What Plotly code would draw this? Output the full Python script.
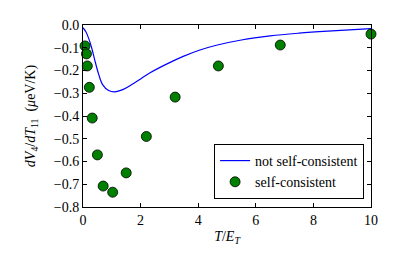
import plotly.graph_objects as go

# not self-consistent curve
curve_x = [0, 0.1, 0.2, 0.3, 0.4, 0.54, 0.68, 0.89, 1.1, 1.4, 1.74, 2.0, 2.33, 2.9, 3.48,
           4.06, 4.63, 5.5, 6.5, 7.5, 8.5, 10]
curve_y = [-0.012, -0.03, -0.06, -0.1, -0.15, -0.215, -0.262, -0.288, -0.294, -0.283,
           -0.258, -0.237, -0.21, -0.172, -0.138, -0.11, -0.089, -0.066, -0.048, -0.036, -0.027, -0.016]

# self-consistent points
sc_x = [0.07, 0.12, 0.15, 0.22, 0.32, 0.5, 0.7, 1.03, 1.5, 2.2, 3.2, 4.7, 6.85, 10]
sc_y = [-0.092, -0.127, -0.18, -0.274, -0.409, -0.571, -0.708, -0.735, -0.65, -0.49,
        -0.317, -0.18, -0.088, -0.04]

x_ticks = [0, 2, 4, 6, 8, 10]
y_ticks = [0.0, -0.1, -0.2, -0.3, -0.4, -0.5, -0.6, -0.7, -0.8]

FAMILY = "Liberation Serif"
font = dict(family=FAMILY, size=14, color="black")

fig = go.Figure()
fig.add_trace(go.Scatter(x=curve_x, y=curve_y, mode="lines",
                         line=dict(color="blue", width=1.2, shape="spline", smoothing=1.0),
                         name="not self-consistent"))
fig.add_trace(go.Scatter(x=sc_x, y=sc_y, mode="markers",
                         marker=dict(color="green", size=10, line=dict(color="black", width=0.8)),
                         name="self-consistent", cliponaxis=False))

axis_common = dict(showline=True, linecolor="black", linewidth=1, mirror="ticks", ticks="inside",
                   ticklen=4, tickcolor="black", showgrid=False, zeroline=False, tickfont=font)

fig.update_layout(
    width=412, height=258, margin=dict(l=83, r=41, t=25, b=51),
    paper_bgcolor="white", plot_bgcolor="white", font=font,
    xaxis=dict(range=[0, 10], tickvals=x_ticks, ticktext=[str(v) for v in x_ticks],
               title=dict(text="<i>T</i>/<i>E<sub>T</sub></i>", font=font, standoff=4), **axis_common),
    yaxis=dict(range=[-0.8, 0], tickvals=y_ticks, tickformat=".1f",
               title=dict(text="<i>dV</i><sub>4</sub>/<i>dT</i><sub>11</sub>  (<i>μ</i>eV/K)", font=font, standoff=14),
               **axis_common),
    legend=dict(x=0.976, y=0.044, xanchor="right", yanchor="bottom", bgcolor="white",
                bordercolor="black", borderwidth=1, font=dict(family=FAMILY, size=14, color="black"),
                tracegroupgap=0, itemwidth=30),
    showlegend=True,
)

fig.write_html("out.html")
